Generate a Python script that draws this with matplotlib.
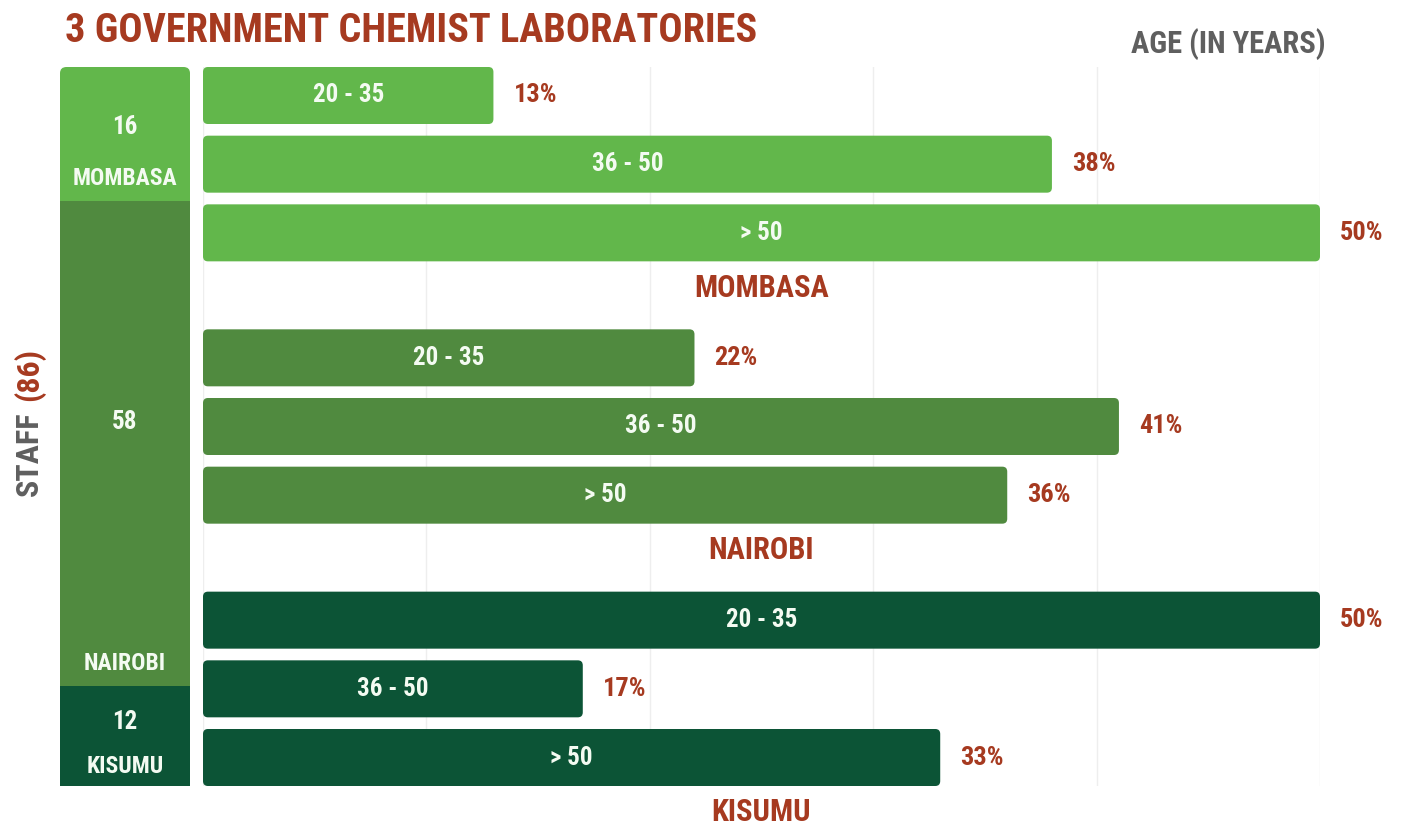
import matplotlib
matplotlib.use("Agg")
import matplotlib.pyplot as plt
from matplotlib import font_manager
from matplotlib.font_manager import FontProperties
from matplotlib.patches import FancyBboxPatch, Rectangle

# ---------------- data ----------------
labs = ["MOMBASA", "NAIROBI", "KISUMU"]
staff = [16, 58, 12]
age_groups = ["20 - 35", "36 - 50", "> 50"]
mombasa_pct = [13, 38, 50]
nairobi_pct = [22, 41, 36]
kisumu_pct = [50, 17, 33]
title = "3 GOVERNMENT CHEMIST LABORATORIES"
age_title = "AGE (IN YEARS)"
staff_word = "STAFF"
staff_total = f"({sum(staff)})"

pct = [mombasa_pct, nairobi_pct, kisumu_pct]
colors = ["#62b74b", "#508a3f", "#0c5436"]
red = "#a63a20"
grey = "#5f5f5f"
white = "#f4fbf2"

# ---- pick a condensed bold font if one is installed ----
cands = []
for f in font_manager.fontManager.ttflist:
    fn = f.fname.lower()
    if ("condensed" in fn or "narrow" in fn or f.stretch in ("condensed", "semi-condensed", "extra-condensed")) \
            and ("bold" in fn or (isinstance(f.weight, int) and f.weight >= 600) or f.weight == "bold"):
        cands.append(f)
prefs = ["robotocondensed-bold", "roboto", "opensans", "open sans", "liberation", "dejavu"]
chosen = None
for p in prefs:
    for f in cands:
        low = f.fname.lower()
        if p in low and "italic" not in low and "oblique" not in low:
            chosen = f
            break
    if chosen:
        break
if chosen:
    BASE = FontProperties(fname=chosen.fname)
else:
    BASE = FontProperties(family="DejaVu Sans", weight="bold")


def T(size):
    fp = BASE.copy()
    fp.set_size(size)
    return fp


W, H = 1409, 831
fig = plt.figure(figsize=(W / 100, H / 100), dpi=100)


def px_axes(x0, y0, x1, y1):
    return fig.add_axes([x0 / W, 1 - y1 / H, (x1 - x0) / W, (y1 - y0) / H])


def round_bars(axis, container, rsize, aspect):
    for rect in container:
        x, y = rect.get_x(), rect.get_y()
        w, h = rect.get_width(), rect.get_height()
        patch = FancyBboxPatch((x, y), w, h,
                               boxstyle=f"round,pad=0,rounding_size={rsize}",
                               mutation_aspect=aspect,
                               facecolor=rect.get_facecolor(), edgecolor="none",
                               zorder=rect.get_zorder())
        rect.set_visible(False)
        axis.add_patch(patch)


# ---------------- main bars ----------------
ax = px_axes(203, 67, 1320, 786)
gstep = 3.82
bh = 0.83
for g, vals in enumerate(pct):
    ys = [g * gstep + r for r in range(3)]
    bars = ax.barh(ys, vals, height=bh, color=colors[g], zorder=2)
    round_bars(ax, bars, 0.22, 0.33)
    for y, v, a in zip(ys, vals, age_groups):
        ax.text(v / 2, y, a, ha="center", va="center", color=white,
                fontproperties=T(18), zorder=3)
        ax.text(v + 0.9, y, f"{v}%", ha="left", va="center", color=red,
                fontproperties=T(19), clip_on=False)
    ax.text(25, ys[-1] + 0.80, labs[g], ha="center", va="center", color=red,
            fontproperties=T(22), clip_on=False)

ax.set_xlim(0, 50)
ax.set_ylim(2 * gstep + 2 + bh / 2, -bh / 2)
ax.set_xticks([0, 10, 20, 30, 40, 50])
ax.grid(axis="x", color="#eeeeee", linewidth=1, zorder=0)
ax.tick_params(left=False, bottom=False, labelleft=False, labelbottom=False)
for s in ax.spines.values():
    s.set_visible(False)

# ---------------- left stacked staff bar ----------------
axl = px_axes(60, 67, 190, 786)
bottoms = [0, staff[0], staff[0] + staff[1]]
sb = axl.bar([0] * 3, staff, bottom=bottoms, width=1.0, color=colors, zorder=2)
top = sb[0]
round_bars(axl, [top], 0.05, 15.0)
top.set_visible(True)
top.set_height(top.get_height() / 2)
top.set_y(top.get_y() + top.get_height())
axl.set_xlim(-0.5, 0.5)
axl.set_ylim(sum(staff), 0)
axl.axis("off")
num_frac = [0.45, 0.457, 0.36]
name_frac = [0.83, 0.955, 0.81]
for i in range(3):
    axl.text(0, bottoms[i] + staff[i] * num_frac[i], str(staff[i]),
             ha="center", va="center", color=white, fontproperties=T(18),
             zorder=5)
    axl.text(0, bottoms[i] + staff[i] * name_frac[i], labs[i],
             ha="center", va="center", color=white, fontproperties=T(17),
             zorder=5)

# ---------------- titles ----------------
fig.text(65 / W, 1 - 31 / H, title, ha="left", va="center", color=red,
         fontproperties=T(29))
fig.text(1326 / W, 1 - 44 / H, age_title, ha="right", va="center", color=grey,
         fontproperties=T(22))

t1 = fig.text(29 / W, 1 - 496 / H, staff_word, ha="center", va="bottom",
              color=grey, fontproperties=T(23), rotation=90)
fig.canvas.draw()
bb = t1.get_window_extent(fig.canvas.get_renderer())
fig.text(29 / W, (bb.y1 + 10) / H, staff_total, ha="center", va="bottom",
         color=red, fontproperties=T(23), rotation=90)

fig.savefig("out.png", dpi=100, facecolor="white")
